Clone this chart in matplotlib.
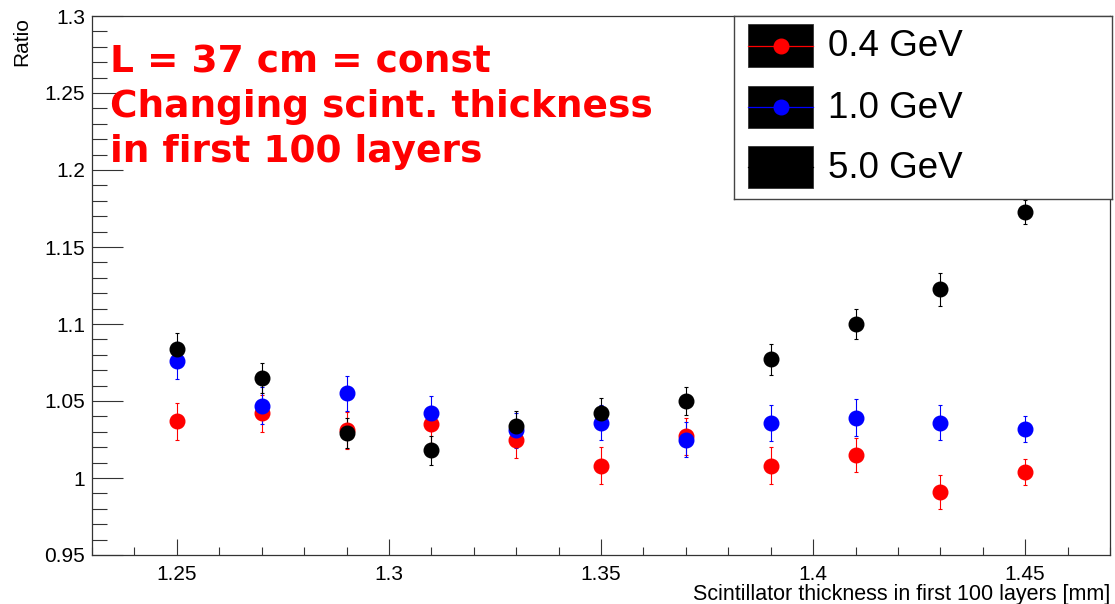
# ratio vs scintillator thickness, ROOT-like look
import numpy as np
import matplotlib
matplotlib.use('Agg')
import matplotlib.pyplot as plt
import matplotlib.ticker as plticker
from matplotlib.patches import Rectangle

# data
thickness = [1.25, 1.27, 1.29, 1.31, 1.33, 1.35, 1.37, 1.39, 1.41, 1.43, 1.45]

ratio_04 = [1.037, 1.042, 1.031, 1.035, 1.025, 1.008, 1.027, 1.008, 1.015, 0.991, 1.004]
err_04 = [0.012, 0.012, 0.012, 0.012, 0.012, 0.012, 0.012, 0.012, 0.011, 0.011, 0.0085]

ratio_10 = [1.076, 1.047, 1.055, 1.042, 1.031, 1.036, 1.025, 1.036, 1.039, 1.036, 1.032]
err_10 = [0.012, 0.012, 0.0115, 0.0115, 0.0115, 0.0115, 0.0115, 0.0117, 0.012, 0.0114, 0.0084]

ratio_50 = [1.084, 1.065, 1.029, 1.018, 1.034, 1.042, 1.050, 1.077, 1.100, 1.1225, 1.1725]
err_50 = [0.0104, 0.0098, 0.0098, 0.0095, 0.0095, 0.0097, 0.0093, 0.0098, 0.010, 0.0105, 0.0078]

labels = ['0.4 GeV', '1.0 GeV', '5.0 GeV']
colors = ['red', 'blue', 'black']

W, H = 1115, 604
fig = plt.figure(figsize=(W/100, H/100), dpi=100)
ax = fig.add_axes([92/W, 1-555/H, (1110-92)/W, (555-16)/H])

series = [(ratio_04, err_04), (ratio_10, err_10), (ratio_50, err_50)]
for (vals, errs), c in zip(series, colors):
	ax.errorbar(thickness, vals, yerr=errs, fmt='o', color=c, ecolor=c,
	            markersize=10.5, elinewidth=0.8, capsize=1.5, capthick=0.8)

ax.set_xlim(1.23, 1.47)
ax.set_ylim(0.95, 1.3)

ax.xaxis.set_major_locator(plticker.MultipleLocator(0.05))
ax.xaxis.set_minor_locator(plticker.MultipleLocator(0.01))
ax.yaxis.set_major_locator(plticker.MultipleLocator(0.05))
ax.yaxis.set_minor_locator(plticker.MultipleLocator(0.01))
ax.xaxis.set_major_formatter(plticker.FormatStrFormatter('%g'))
ax.yaxis.set_major_formatter(plticker.FormatStrFormatter('%g'))

tickfont = 'Liberation Sans'
ax.tick_params(axis='both', which='both', direction='in', top=False, right=False,
               width=0.8, colors='#333333', labelcolor='black')
ax.tick_params(axis='x', which='major', length=11.5, pad=7)
ax.tick_params(axis='x', which='minor', length=6)
ax.tick_params(axis='y', which='major', length=22, pad=5)
ax.tick_params(axis='y', which='minor', length=11)
for lab in ax.get_xticklabels() + ax.get_yticklabels():
	lab.set_fontfamily(tickfont)
	lab.set_fontsize(15)
for s in ax.spines.values():
	s.set_color('#333333')
	s.set_linewidth(0.9)

ax.set_xlabel('Scintillator thickness in first 100 layers [mm]', loc='right',
              fontfamily=tickfont, fontsize=15.5, labelpad=0)
# y title, top-aligned like ROOT
fig.text(22/W, 1-17/H, 'Ratio', rotation=90, ha='center', va='top',
         fontfamily=tickfont, fontsize=15)

# red annotation
lines = ['L = 37 cm = const', 'Changing scint. thickness', 'in first 100 layers']
for k, txt in enumerate(lines):
	ax.text(0.0177, 0.896 - k*0.0835, txt, transform=ax.transAxes, color='red',
	        fontsize=27, fontweight='bold', fontfamily='DejaVu Sans', va='baseline')

# legend box drawn by hand in pixel units
lax = fig.add_axes([734/W, 1-199/H, (1112-734)/W, (199-16)/H])
lax.set_xlim(734, 1112)
lax.set_ylim(199, 16)
lax.set_xticks([])
lax.set_yticks([])
for s in lax.spines.values():
	s.set_color('#444444')
	s.set_linewidth(1.0)
rows = [(24, 67), (86, 128), (146, 188)]
for (y0, y1), lab, c in zip(rows, labels, colors):
	lax.add_patch(Rectangle((748, y0), 65, y1 - y0, facecolor='black', edgecolor='#333333', lw=0.6))
	ym = (y0 + y1) / 2
	lax.plot([748, 813], [ym, ym], color=c, lw=0.9)
	lax.plot([781], [ym], 'o', color=c, markersize=10.5)
	lax.text(828, ym + 1, lab, fontfamily=tickfont, fontsize=26.5, va='center', ha='left')

plt.savefig('out.png', dpi=100)
plt.close()
